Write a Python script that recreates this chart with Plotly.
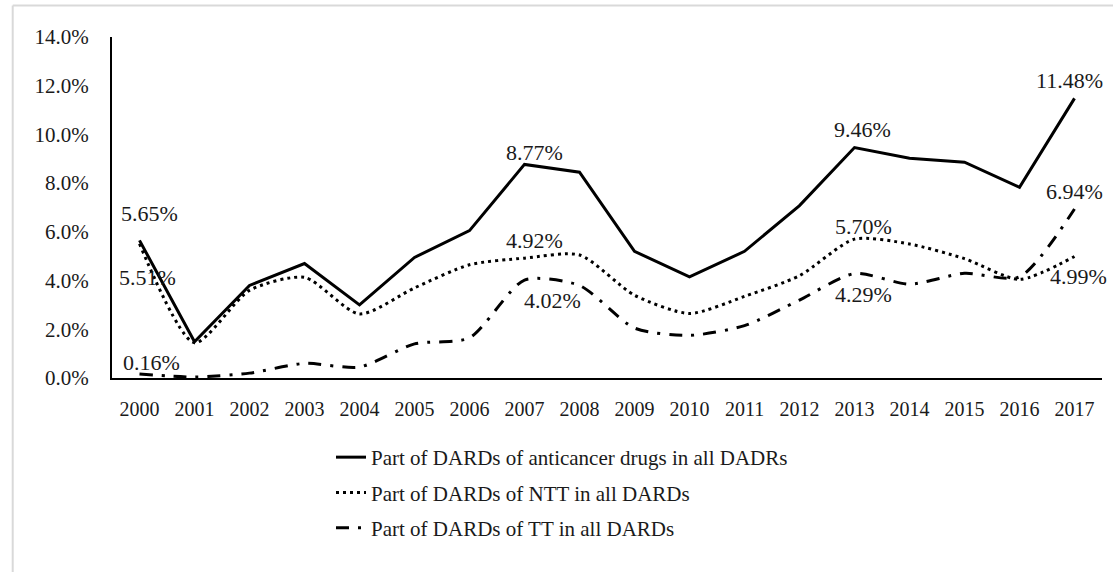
import plotly.graph_objects as go

years = [str(y) for y in range(2000, 2018)]
anticancer = [5.65, 1.49, 3.80, 4.70, 3.00, 4.95, 6.05, 8.77, 8.45, 5.20, 4.15, 5.20, 7.08, 9.46, 9.02, 8.86, 7.83, 11.48]
ntt = [5.51, 1.45, 3.60, 4.13, 2.63, 3.70, 4.65, 4.92, 5.05, 3.40, 2.65, 3.35, 4.20, 5.70, 5.50, 4.90, 4.05, 4.99]
tt = [0.16, 0.04, 0.20, 0.60, 0.45, 1.40, 1.65, 4.02, 3.80, 2.05, 1.75, 2.15, 3.20, 4.29, 3.85, 4.30, 4.15, 6.94]

names = ["Part of DARDs of anticancer drugs in all DADRs",
         "Part of DARDs of NTT in all DARDs",
         "Part of DARDs of TT in all DARDs"]

# labelled points: index -> (x shift px, y shift px, screen-down positive)
labels_anti = {0: (10, -27), 7: (10, -12), 13: (8, -18), 17: (-5, -18)}
labels_ntt = {0: (8, 34), 7: (10, -18), 13: (9, -13), 17: (4, 20)}
labels_tt = {0: (12, -12), 7: (28, 20), 13: (9, 21), 17: (0, -17)}

FONT = "Liberation Serif, Times New Roman, serif"
TXT = "#1a1a1a"

fig = go.Figure()

series = [
    (anticancer, names[0], dict(color="black", width=3, dash="solid", shape="linear"), labels_anti),
    (ntt, names[1], dict(color="black", width=3, dash="3px,4px", shape="spline", smoothing=0.7), labels_ntt),
    (tt, names[2], dict(color="black", width=3, dash="13px,9px,3px,9px", shape="spline", smoothing=0.7), labels_tt),
]

for i, (vals, name, line, labeled) in enumerate(series):
    fig.add_trace(go.Scatter(
        x=years, y=vals, name=name, mode="lines",
        line=line, cliponaxis=False, legendgroup=f"g{i}",
        hoverinfo="skip",
    ))
    for idx, (dx, dy) in labeled.items():
        # category axis: annotation x is the category index
        fig.add_annotation(
            x=idx, y=vals[idx], xref="x", yref="y", text=f"{vals[idx]:.2f}%",
            showarrow=False, xanchor="center", yanchor="middle",
            xshift=dx, yshift=-dy,
            font=dict(family=FONT, size=22, color=TXT),
        )

W, H = 1113, 572
L, R, T, B = 112, 11, 37, 194
pw, ph = W - L - R, H - T - B

fig.update_layout(
    width=W, height=H,
    margin=dict(l=L, r=R, t=T, b=B, pad=0, autoexpand=False),
    paper_bgcolor="white", plot_bgcolor="white",
    font=dict(family=FONT, size=20, color=TXT),
    showlegend=True,
    legend=dict(
        x=(373 - 42 - L) / pw, y=-(437 - (H - B)) / ph,
        xanchor="left", yanchor="top",
        orientation="v", tracegroupgap=5,
        font=dict(family=FONT, size=21, color=TXT),
        bgcolor="rgba(0,0,0,0)",
    ),
    xaxis=dict(
        type="category", range=[-0.5, 17.5],
        showline=True, linecolor="black", linewidth=2,
        showgrid=False, zeroline=False, ticks="", tickangle=0,
        ticklabelstandoff=12,
        tickfont=dict(family=FONT, size=20, color=TXT),
    ),
    yaxis=dict(
        range=[0, 14], tickvals=[0, 2, 4, 6, 8, 10, 12, 14],
        ticktext=["0.0%", "2.0%", "4.0%", "6.0%", "8.0%", "10.0%", "12.0%", "14.0%"],
        showline=True, linecolor="black", linewidth=2,
        showgrid=False, zeroline=False, ticks="",
        ticklabelstandoff=17,
        tickfont=dict(family=FONT, size=21, color=TXT),
    ),
)

# light outer frame (top and left edges visible in reference)
top_y = (H - B - 5.5) / ph
left_x = (12.7 - L) / pw
fig.add_shape(type="line", xref="paper", yref="paper",
              x0=left_x, x1=(W - L) / pw + 0.01, y0=top_y, y1=top_y,
              line=dict(color="#d9d9d9", width=2))
fig.add_shape(type="line", xref="paper", yref="paper",
              x0=left_x, x1=left_x, y0=top_y, y1=-(B + 5) / ph,
              line=dict(color="#d9d9d9", width=2))

fig.write_html("out.html", config={"displayModeBar": False},
               post_script="document.body.style.margin='0';document.body.style.overflow='hidden';")
